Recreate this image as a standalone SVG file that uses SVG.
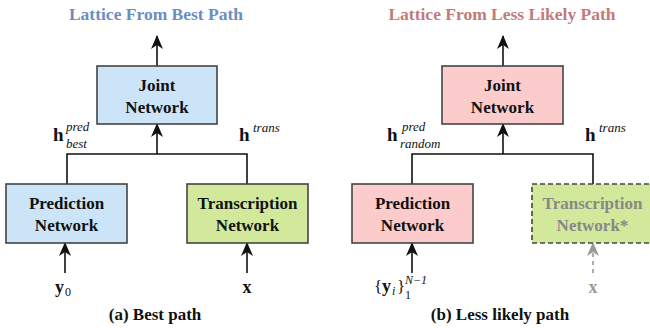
<svg xmlns="http://www.w3.org/2000/svg" width="650" height="328" viewBox="0 0 650 328">
<style>
.box{stroke:#444;stroke-width:1.6}
.blue{fill:#cce4f8}
.pink{fill:#fccccc}
.green{fill:#d2e99c}
.dashed{stroke-dasharray:5,3}
.conn{stroke:#111;stroke-width:1.6;fill:none}
.gconn{stroke:#999;stroke-width:1.6;fill:none;stroke-dasharray:4,4}
</style>
<defs>
<marker id="ah" viewBox="0 0 14 12" refX="13" refY="6" markerWidth="14" markerHeight="12" markerUnits="userSpaceOnUse" orient="auto">
<path d="M0,0 L14,6 L0,12 L4,6 Z" fill="#111"/>
</marker>
<marker id="gah" viewBox="0 0 14 12" refX="13" refY="6" markerWidth="14" markerHeight="12" markerUnits="userSpaceOnUse" orient="auto">
<path d="M0,0 L14,6 L0,12 L4,6 Z" fill="#999"/>
</marker>
</defs>
<rect width="650" height="328" fill="#fff"/>

<text x="156" y="20" fill="#6b8ec0" font-family="Liberation Serif, Times New Roman, serif" font-weight="bold" font-size="17.5" text-anchor="middle">Lattice From Best Path</text>
<text x="502" y="20" fill="#c27a7b" font-family="Liberation Serif, Times New Roman, serif" font-weight="bold" font-size="17.5" text-anchor="middle">Lattice From Less Likely Path</text>

<g id="connectors">
<line class="conn" x1="157" y1="66" x2="157" y2="36" marker-end="url(#ah)"/>
<polyline class="conn" points="67,184 67,154 247,154 247,184"/>
<line class="conn" x1="157" y1="154" x2="157" y2="124" marker-end="url(#ah)"/>
<line class="conn" x1="65" y1="273" x2="65" y2="243" marker-end="url(#ah)"/>
<line class="conn" x1="247" y1="273" x2="247" y2="243" marker-end="url(#ah)"/>
<line class="conn" x1="503" y1="66" x2="503" y2="36" marker-end="url(#ah)"/>
<polyline class="conn" points="412,184 412,154 593,154 593,184"/>
<line class="conn" x1="503" y1="154" x2="503" y2="124" marker-end="url(#ah)"/>
<line class="conn" x1="412" y1="273" x2="412" y2="243" marker-end="url(#ah)"/>
<line class="gconn" x1="593" y1="273" x2="593" y2="243" marker-end="url(#gah)"/>
</g>

<g id="joint-a">
<rect class="box blue" x="97" y="66" width="120" height="58"/>
<text x="157" y="91" font-family="Liberation Serif, Times New Roman, serif" font-weight="bold" font-size="17" text-anchor="middle" fill="#111">Joint</text>
<text x="157" y="113" font-family="Liberation Serif, Times New Roman, serif" font-weight="bold" font-size="17" text-anchor="middle" fill="#111">Network</text>
</g>
<g id="pred-a">
<rect class="box blue" x="6" y="184" width="121" height="59"/>
<text x="66.5" y="209" font-family="Liberation Serif, Times New Roman, serif" font-weight="bold" font-size="17" text-anchor="middle" fill="#111">Prediction</text>
<text x="66.5" y="231" font-family="Liberation Serif, Times New Roman, serif" font-weight="bold" font-size="17" text-anchor="middle" fill="#111">Network</text>
</g>
<g id="trans-a">
<rect class="box green" x="187" y="184" width="121" height="59"/>
<text x="247.5" y="209" font-family="Liberation Serif, Times New Roman, serif" font-weight="bold" font-size="17" text-anchor="middle" fill="#111">Transcription</text>
<text x="247.5" y="231" font-family="Liberation Serif, Times New Roman, serif" font-weight="bold" font-size="17" text-anchor="middle" fill="#111">Network</text>
</g>
<g id="joint-b">
<rect class="box pink" x="442" y="66" width="121" height="58"/>
<text x="502.5" y="91" font-family="Liberation Serif, Times New Roman, serif" font-weight="bold" font-size="17" text-anchor="middle" fill="#111">Joint</text>
<text x="502.5" y="113" font-family="Liberation Serif, Times New Roman, serif" font-weight="bold" font-size="17" text-anchor="middle" fill="#111">Network</text>
</g>
<g id="pred-b">
<rect class="box pink" x="352" y="184" width="121" height="59"/>
<text x="412.5" y="209" font-family="Liberation Serif, Times New Roman, serif" font-weight="bold" font-size="17" text-anchor="middle" fill="#111">Prediction</text>
<text x="412.5" y="231" font-family="Liberation Serif, Times New Roman, serif" font-weight="bold" font-size="17" text-anchor="middle" fill="#111">Network</text>
</g>
<g id="trans-b">
<rect class="box green dashed" x="532" y="184" width="121" height="59"/>
<text x="592.5" y="209" font-family="Liberation Serif, Times New Roman, serif" font-weight="bold" font-size="17" text-anchor="middle" fill="#888">Transcription</text>
<text x="592.5" y="231" font-family="Liberation Serif, Times New Roman, serif" font-weight="bold" font-size="17" text-anchor="middle" fill="#888">Network*</text>
</g>

<g id="labels" fill="#111">
<text x="53" y="141" font-family="Liberation Serif, Times New Roman, serif" font-size="19" font-weight="bold">h</text>
<text x="66" y="131" font-family="Liberation Serif, Times New Roman, serif" font-size="13" font-style="italic">pred</text>
<text x="66" y="148" font-family="Liberation Serif, Times New Roman, serif" font-size="13" font-style="italic">best</text>
<text x="239" y="141" font-family="Liberation Serif, Times New Roman, serif" font-size="19" font-weight="bold">h</text>
<text x="253" y="132" font-family="Liberation Serif, Times New Roman, serif" font-size="13" font-style="italic">trans</text>
<text x="387" y="141" font-family="Liberation Serif, Times New Roman, serif" font-size="19" font-weight="bold">h</text>
<text x="402" y="131" font-family="Liberation Serif, Times New Roman, serif" font-size="13" font-style="italic">pred</text>
<text x="400" y="148" font-family="Liberation Serif, Times New Roman, serif" font-size="13" font-style="italic">random</text>
<text x="585" y="141" font-family="Liberation Serif, Times New Roman, serif" font-size="19" font-weight="bold">h</text>
<text x="599" y="132" font-family="Liberation Serif, Times New Roman, serif" font-size="13" font-style="italic">trans</text>
<text x="55" y="293" font-family="Liberation Serif, Times New Roman, serif" font-size="18" font-weight="bold">y</text>
<text x="65" y="296" font-family="Liberation Serif, Times New Roman, serif" font-size="12">0</text>
<text x="247" y="293" font-family="Liberation Serif, Times New Roman, serif" font-size="18" font-weight="bold" text-anchor="middle">x</text>
<text x="374" y="292" font-family="Liberation Serif, Times New Roman, serif" font-size="17">{</text>
<text x="382" y="292" font-family="Liberation Serif, Times New Roman, serif" font-size="18" font-weight="bold">y</text>
<text x="392" y="295" font-family="Liberation Serif, Times New Roman, serif" font-size="12" font-style="italic">i</text>
<text x="397" y="292" font-family="Liberation Serif, Times New Roman, serif" font-size="17">}</text>
<text x="405" y="299" font-family="Liberation Serif, Times New Roman, serif" font-size="12">1</text>
<text x="405" y="284" font-family="Liberation Serif, Times New Roman, serif" font-size="12" font-style="italic">N−1</text>
<text x="593" y="293" font-family="Liberation Serif, Times New Roman, serif" font-size="18" font-weight="bold" text-anchor="middle" fill="#999">x</text>
</g>

<text x="155" y="320" font-family="Liberation Serif, Times New Roman, serif" font-weight="bold" font-size="17" text-anchor="middle" fill="#111">(a) Best path</text>
<text x="500" y="320" font-family="Liberation Serif, Times New Roman, serif" font-weight="bold" font-size="17" text-anchor="middle" fill="#111">(b) Less likely path</text>
</svg>
